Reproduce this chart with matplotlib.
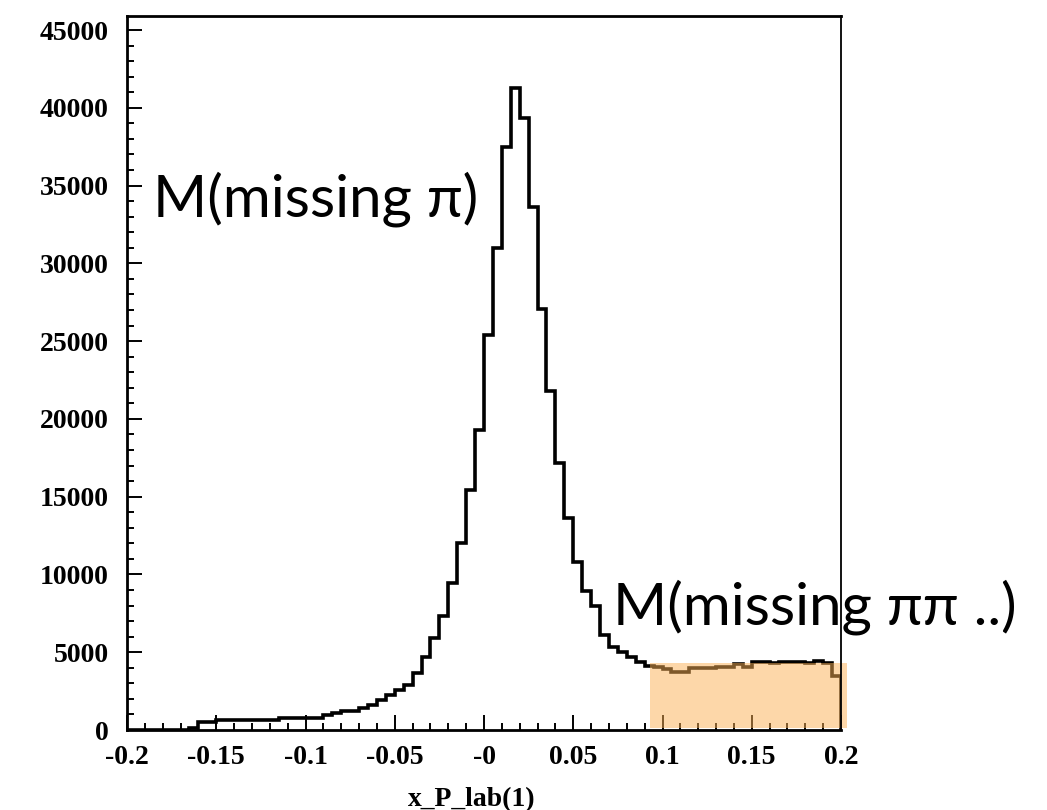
import numpy as np
import matplotlib
matplotlib.use("Agg")
import matplotlib.pyplot as plt
from matplotlib.ticker import MultipleLocator, FixedLocator, FixedFormatter
from matplotlib.patches import Rectangle

# ---- data ----
x_min, x_max, bin_width = -0.2, 0.2, 0.005
counts = [
    0, 0, 0, 0, 0, 0, 0, 120, 520, 520,
    660, 660, 660, 660, 660, 660, 660, 740, 740, 800,
    800, 800, 960, 1110, 1240, 1240, 1435, 1600, 1930, 2250,
    2570, 2890, 3645, 4670, 5890, 7330, 9450, 12000, 15430, 19290,
    25400, 30970, 37500, 41260, 39330, 33650, 27050, 21800, 17170, 13650,
    10800, 8960, 7990, 6110, 5360, 5030, 4710, 4390, 4110, 4070,
    3900, 3750, 3750, 3970, 3970, 3970, 4070, 4070, 4240, 4070,
    4350, 4350, 4290, 4390, 4390, 4390, 4290, 4460, 4290, 3470,
]
x_ticks = [-0.2, -0.15, -0.1, -0.05, 0.0, 0.05, 0.1, 0.15, 0.2]
x_tick_labels = ["-0.2", "-0.15", "-0.1", "-0.05", "-0", "0.05", "0.1", "0.15", "0.2"]
y_ticks = [0, 5000, 10000, 15000, 20000, 25000, 30000, 35000, 40000, 45000]
y_tick_labels = [str(v) for v in y_ticks]
x_title = "x_P_lab(1)"
label_peak = "M(missing \u03c0)"
label_tail = "M(missing \u03c0\u03c0 ..)"
band_x = (0.093, 0.2035)
band_y = (130, 4310)

edges = np.round(np.arange(x_min, x_max + bin_width / 2, bin_width), 6)

fig = plt.figure(figsize=(10.47, 8.10), dpi=100)
ax = fig.add_axes([127 / 1047, 1 - 730 / 810, (841 - 127) / 1047, (730 - 16) / 810])

ax.stairs(counts, edges, color="black", lw=2.6, baseline=0)

band = Rectangle((band_x[0], band_y[0]), band_x[1] - band_x[0], band_y[1] - band_y[0],
                 facecolor=(0.99, 0.69, 0.33), alpha=0.5, edgecolor="none",
                 clip_on=False, zorder=3)
ax.add_patch(band)

ax.set_xlim(x_min, x_max)
ax.set_ylim(0, 45900)

serif_bold = dict(family="Liberation Serif", weight="bold", size=20)
ax.xaxis.set_major_locator(FixedLocator(x_ticks))
ax.xaxis.set_major_formatter(FixedFormatter(x_tick_labels))
ax.xaxis.set_minor_locator(MultipleLocator(0.01))
ax.yaxis.set_major_locator(FixedLocator(y_ticks))
ax.yaxis.set_major_formatter(FixedFormatter(y_tick_labels))
ax.yaxis.set_minor_locator(MultipleLocator(1000))

ax.tick_params(which="both", direction="in", top=False, right=False, color="black")
ax.tick_params(which="major", length=10.5, width=1.4)
ax.tick_params(which="minor", length=5, width=1.4)
ax.tick_params(axis="y", which="major", pad=13)
ax.tick_params(axis="x", which="major", pad=11)
for lab in ax.get_xticklabels() + ax.get_yticklabels():
    lab.set_fontproperties(matplotlib.font_manager.FontProperties(**serif_bold))

for side in ["left", "bottom", "top"]:
    ax.spines[side].set_linewidth(2.0)
ax.spines["right"].set_linewidth(1.3)
ax.spines["right"].set_zorder(5)

fig.text(472 / 1047, 1 - 806 / 810, x_title, ha="center", va="baseline", **serif_bold)

sans = ["Lato", "Open Sans", "DejaVu Sans"]
ax.text(-0.1855, 33000, label_peak, family=sans, size=42, ha="left", va="baseline", zorder=4)
ax.text(0.0722, 6760, label_tail, family=sans, size=42, ha="left", va="baseline",
        zorder=4, clip_on=False)

fig.savefig("out.png", dpi=100)
